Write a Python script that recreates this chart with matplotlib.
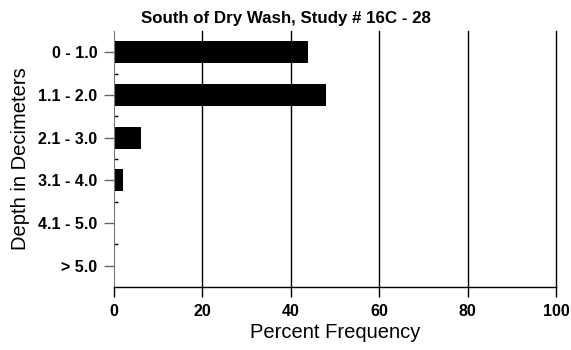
import numpy as np
import matplotlib
matplotlib.use('Agg')
import matplotlib.pyplot as plt

# depth classes and percent frequency
depths = ['0 - 1.0', '1.1 - 2.0', '2.1 - 3.0', '3.1 - 4.0', '4.1 - 5.0', '> 5.0']
percent = [44, 48, 6, 2, 0, 0]
xticks = [0, 20, 40, 60, 80, 100]

plt.rcParams['font.family'] = ['Liberation Sans', 'DejaVu Sans']

fig = plt.figure(figsize=(5.71, 3.5), dpi=100)
ax = fig.add_axes([114/571, 1-287/350, 442/571, 256/350])

ypos = np.arange(len(depths))
ax.barh(ypos, percent, height=0.52, color='black')
ax.set_ylim(len(depths) - 0.5, -0.5)
ax.set_xlim(0, 100)

ax.set_yticks(ypos)
ax.set_yticklabels(depths, fontweight='bold', fontsize=11.5)
ax.set_yticks(ypos[:-1] + 0.5, minor=True)
ax.tick_params(axis='y', which='major', direction='out', length=7, width=1, color='#666666', pad=5)
ax.tick_params(axis='y', which='minor', direction='in', length=3, width=1, color='black')

ax.set_xticks(xticks)
ax.set_xticklabels([str(v) for v in xticks], fontweight='bold', fontsize=11.5)
ax.tick_params(axis='x', direction='out', length=7, width=1, color='black', pad=5)
for v in xticks[1:]:
    ax.axvline(v, color='black', lw=1, zorder=0, clip_on=False)

for s in ['top', 'right']:
    ax.spines[s].set_visible(False)
ax.spines['left'].set_color('#777777')
ax.spines['bottom'].set_color('black')
ax.spines['bottom'].set_linewidth(1)

ax.set_xlabel('Percent Frequency', fontsize=14.5, labelpad=3)
ax.set_ylabel('Depth in Decimeters', fontsize=14.5, labelpad=6)
fig.text(0.5, 1-18/350, 'South of Dry Wash, Study # 16C - 28', ha='center', va='center',
         fontsize=12.2, fontweight='bold')

fig.savefig('out.png', dpi=100)
